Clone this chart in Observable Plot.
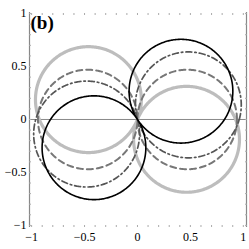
<!DOCTYPE html>
<html><head><meta charset="utf-8">
<script src="https://cdn.jsdelivr.net/npm/d3@7"></script>
<script src="https://cdn.jsdelivr.net/npm/@observablehq/plot@0.6"></script>
<style>body{margin:0;background:#fff;overflow:hidden}</style>
</head><body><div id="chart"></div>
<script>
// Each style = pair of circles through the origin: polar curve r = d·|cos(θ − φ)|
const series = ["gray", "dashed", "dashdot", "black"];
const angleDeg = [-22, 0, 16, 33];      // direction of the circle centre
const diameter = [1.0, 0.94, 1.0, 0.98]; // circle diameter
const xTicks = [-1, -0.5, 0, 0.5, 1];
const yTicks = [-1, -0.5, 0, 0.5, 1];
const minorTicks = d3.range(-10, 11).map(i => i / 10);
const panelLabel = "(b)";
const xDomain = [-1.02, 1.03];
const yDomain = [-1.02, 1.01];

const styles = {
  gray:    {stroke: "#bdbdbd", strokeWidth: 3.2},
  dashed:  {stroke: "#777777", strokeWidth: 2, strokeDasharray: "6,4"},
  dashdot: {stroke: "#555555", strokeWidth: 1.7, strokeDasharray: "6,3,1.5,3"},
  black:   {stroke: "#000000", strokeWidth: 1.6}
};

const curves = series.map((s, i) => {
  const phi = angleDeg[i] * Math.PI / 180;
  return d3.range(0, 721).map(t => {
    const th = t * Math.PI / 360;
    const r = diameter[i] * Math.abs(Math.cos(th - phi));
    return {x: r * Math.cos(th), y: r * Math.sin(th)};
  });
});

const fmt = d => d === 0 ? "0" : (d < 0 ? "\u2212" : "") + Math.abs(d);

const chart = Plot.plot({
  width: 249, height: 249,
  marginLeft: 29, marginRight: 3, marginTop: 12, marginBottom: 22,
  x: {domain: xDomain},
  y: {domain: yDomain},
  style: {fontFamily: "'Liberation Serif', 'DejaVu Serif', serif", fontSize: "12px", color: "#000", background: "#fff"},
  marks: [
    Plot.ruleY([0], {stroke: "#888", strokeWidth: 1}),
    Plot.ruleX([xDomain[0], xDomain[1]], {stroke: "#888", strokeWidth: 1.2}),
    Plot.axisX(minorTicks, {anchor: "top", tickSize: -2, text: null, stroke: "#aaa", label: null}),
    Plot.axisX(minorTicks, {anchor: "bottom", tickSize: -2, text: null, stroke: "#aaa", label: null}),
    Plot.axisY(minorTicks, {anchor: "left", tickSize: -2, text: null, stroke: "#aaa", label: null}),
    Plot.axisY(minorTicks, {anchor: "right", tickSize: -2, text: null, stroke: "#aaa", label: null}),
    Plot.axisX(xTicks, {anchor: "bottom", tickSize: 0, tickPadding: 5, tickFormat: fmt, label: null, fontSize: 12, fill: "#000"}),
    Plot.axisY(yTicks, {anchor: "left", tickSize: 0, tickPadding: 3, tickFormat: fmt, label: null, fontSize: 12, fill: "#000"}),
    ...series.map((s, i) => Plot.line(curves[i], {x: "x", y: "y", ...styles[s]})),
    Plot.text([panelLabel], {frameAnchor: "top-left", dx: 1, dy: 3, lineAnchor: "top", textAnchor: "start", fontSize: 19, fontWeight: "bold", fill: "#000"})
  ]
});
document.getElementById("chart").appendChild(chart);
</script>
</body></html>
